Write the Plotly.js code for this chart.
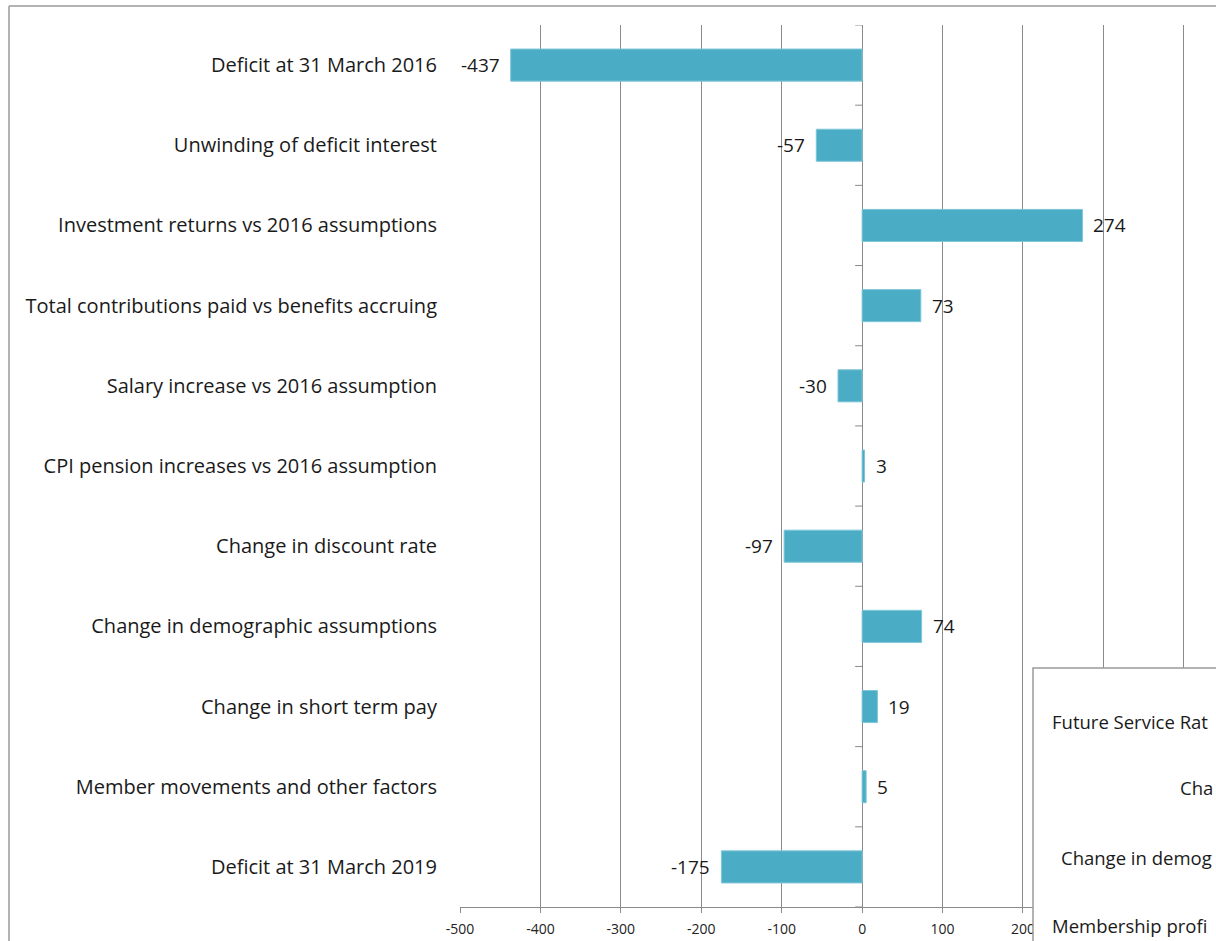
<!DOCTYPE html>
<html>
<head>
<meta charset="utf-8">
<script src="https://cdn.plot.ly/plotly-3.0.1.min.js"></script>
<style>
html,body{margin:0;padding:0;overflow:hidden;background:#fff;}
#chart{width:1216px;height:941px;}
</style>
</head>
<body>
<div id="chart"></div>
<script>
// ---- Data ----
const categories = [
  "Deficit at 31 March 2016",
  "Unwinding of deficit interest",
  "Investment returns vs 2016 assumptions",
  "Total contributions paid vs benefits accruing",
  "Salary increase vs 2016 assumption",
  "CPI pension increases vs 2016 assumption",
  "Change in discount rate",
  "Change in demographic assumptions",
  "Change in short term pay",
  "Member movements and other factors",
  "Deficit at 31 March 2019"
];
const values = [-437, -57, 274, 73, -30, 3, -97, 74, 19, 5, -175];
const xTickValues = [-500, -400, -300, -200, -100, 0, 100, 200, 300, 400];
// labels of 300 and 400 are hidden behind the neighbouring chart in the reference
const xTickLabels = ["-500", "-400", "-300", "-200", "-100", "0", "100", "200", "", ""];

// Partially visible second chart (overlapping, cropped at the right edge)
const overlayLabels = [
  "Future Service Rat",
  "Cha",
  "Change in demog",
  "Membership profi"
];

// ---- Layout geometry ----
const W = 1216, H = 941;
const M = {l: 460, r: 0, t: 25, b: 34};
const plotW = W - M.l - M.r, plotH = H - M.t - M.b;
const px2x = p => (p - M.l) / plotW;
const px2y = p => (H - M.b - p) / plotH;

const FONT = "Open Sans, Liberation Sans, sans-serif";
const barColor = "#4BACC6";
const gridColor = "#8a8a8a";
const txtColor = "#1a1a1a";

const trace = {
  type: "bar",
  orientation: "h",
  x: values,
  y: categories,
  width: 0.4,
  marker: {color: barColor, line: {color: "#7fc6d8", width: 1}},
  hoverinfo: "x+y",
  cliponaxis: false
};

// data labels
const annotations = values.map((v, i) => ({
  x: v, y: categories[i], xref: "x", yref: "y",
  text: String(v), showarrow: false,
  xanchor: v < 0 ? "right" : "left",
  xshift: v < 0 ? -9 : 9,
  font: {family: FONT, size: 19, color: txtColor}
}));

// overlay chart texts
const overlayX = [1050, 1178, 1059, 1050];
const overlayY = [721, 787, 857, 925];
overlayLabels.forEach((t, i) => {
  annotations.push({
    x: px2x(overlayX[i]), y: px2y(overlayY[i]), xref: "paper", yref: "paper",
    text: t, showarrow: false, xanchor: "left", yanchor: "middle",
    font: {family: FONT, size: 18.5, color: txtColor}
  });
});

const shapes = [];
// category boundary ticks on the zero axis
for (let i = 0; i <= categories.length; i++) {
  shapes.push({
    type: "line", xref: "x", yref: "y", xsizemode: "pixel", xanchor: 0,
    x0: -7, x1: 0, y0: i - 0.5, y1: i - 0.5,
    line: {color: gridColor, width: 1}
  });
}
// outer chart frame (top and left)
shapes.push({type: "line", xref: "paper", yref: "paper",
  x0: px2x(9), x1: px2x(1230), y0: px2y(6), y1: px2y(6),
  line: {color: "#9a9a9a", width: 1.5}});
shapes.push({type: "line", xref: "paper", yref: "paper",
  x0: px2x(9), x1: px2x(9), y0: px2y(6), y1: px2y(960),
  line: {color: "#9a9a9a", width: 1.5}});
// overlapping box of the neighbouring chart
shapes.push({type: "rect", xref: "paper", yref: "paper", layer: "above",
  x0: px2x(1033), x1: px2x(1240), y0: px2y(960), y1: px2y(668),
  fillcolor: "#ffffff", line: {color: "#9a9a9a", width: 1.5}});

const layout = {
  width: W, height: H,
  margin: M,
  paper_bgcolor: "#ffffff",
  plot_bgcolor: "#ffffff",
  showlegend: false,
  font: {family: FONT, color: txtColor},
  xaxis: {
    range: [-500, 440],
    tickmode: "array", tickvals: xTickValues, ticktext: xTickLabels,
    showgrid: true, gridcolor: gridColor, gridwidth: 1,
    zeroline: true, zerolinecolor: gridColor, zerolinewidth: 1,
    showline: true, linecolor: gridColor, linewidth: 1,
    ticks: "outside", ticklen: 5, tickcolor: gridColor,
    ticklabelstandoff: 4,
    tickfont: {family: FONT, size: 14, color: "#222"},
    fixedrange: true
  },
  yaxis: {
    type: "category",
    categoryorder: "array", categoryarray: categories,
    range: [categories.length - 0.5, -0.5],
    showgrid: false, zeroline: false, showline: false,
    ticks: "", ticklabelstandoff: 22,
    tickfont: {family: FONT, size: 20, color: txtColor},
    fixedrange: true
  },
  annotations: annotations,
  shapes: shapes
};

Plotly.newPlot("chart", [trace], layout, {displayModeBar: false, staticPlot: true});
</script>
</body>
</html>
